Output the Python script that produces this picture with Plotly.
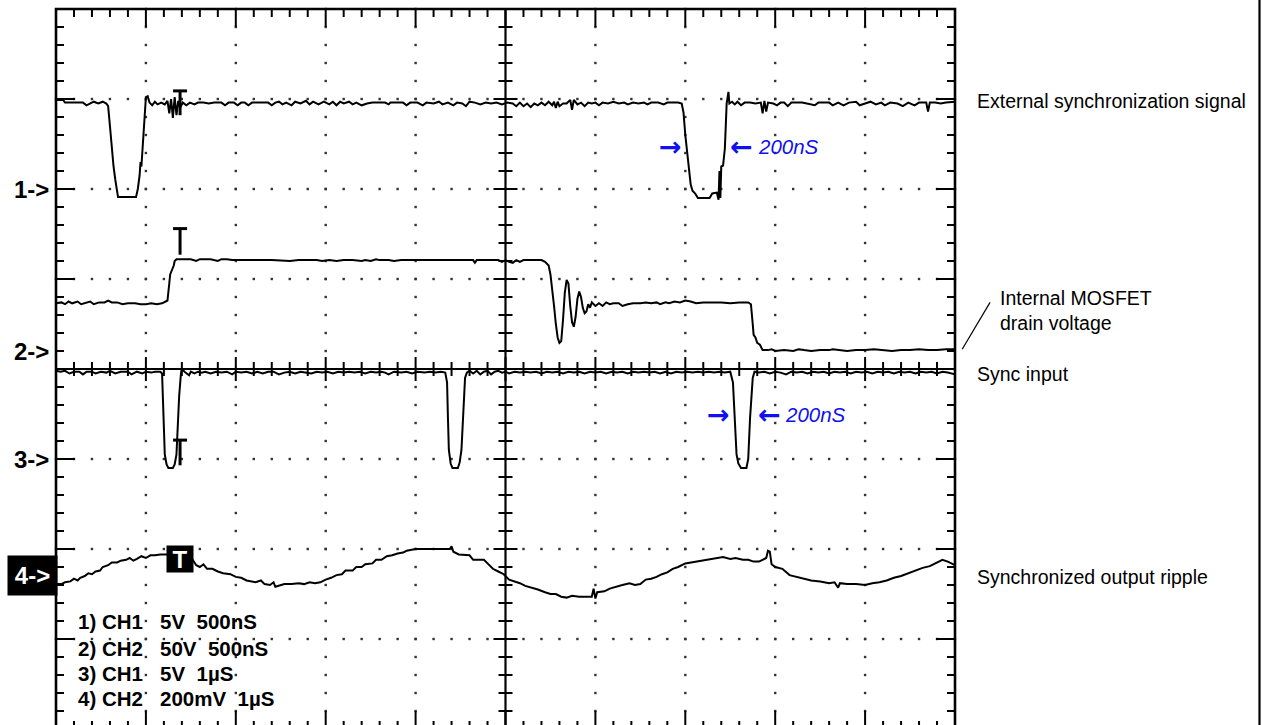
import plotly.graph_objects as go

# ---------------- data (oscilloscope divisions: x 0..10, y -4..4) ----------------
ext_sync = [(0.00, 2.99), (0.08, 2.99), (0.10, 2.96), (0.30, 2.96), (0.34, 2.93), (0.38, 2.95), (0.42, 2.97),
            (0.47, 2.95), (0.52, 2.97), (0.56, 2.95), (0.58, 2.92), (0.60, 2.70), (0.62, 2.45), (0.64, 2.25),
            (0.66, 2.10), (0.68, 1.94), (0.69, 1.91), (0.89, 1.91), (0.91, 2.00), (0.93, 2.15), (0.94, 2.30),
            (0.95, 2.25), (0.96, 2.40), (0.98, 2.70), (0.99, 2.95), (1.00, 3.02), (1.02, 3.03), (1.04, 2.96),
            (1.07, 2.93), (1.10, 2.97), (1.13, 2.94), (1.17, 2.96), (1.21, 2.94), (1.24, 2.98), (1.26, 2.84),
            (1.28, 3.00), (1.30, 2.79), (1.32, 3.02), (1.34, 2.82), (1.36, 2.98), (1.38, 2.90), (1.41, 2.96),
            (1.45, 2.93), (1.49, 2.96), (1.54, 2.94), (1.58, 2.96), (1.64, 2.96), (1.70, 2.95), (1.76, 2.96),
            (1.84, 2.96), (1.88, 2.93), (1.92, 2.96), (1.98, 2.96), (2.02, 2.93), (2.06, 2.96), (2.10, 2.96),
            (2.14, 2.93), (2.18, 2.96), (2.28, 2.96), (2.36, 2.96), (2.40, 2.93), (2.44, 2.96), (2.48, 2.97),
            (2.52, 2.94), (2.56, 2.96), (2.62, 2.93), (2.66, 2.97), (2.72, 2.95), (2.78, 2.98), (2.82, 2.94),
            (2.86, 2.97), (2.92, 2.94), (2.98, 2.97), (3.04, 2.94), (3.08, 2.97), (3.12, 2.93), (3.16, 2.97),
            (3.20, 2.95), (3.26, 2.97), (3.30, 2.94), (3.34, 2.96), (3.40, 2.93), (3.46, 2.95), (3.52, 2.96),
            (3.58, 2.96), (3.66, 2.96), (3.70, 2.94), (3.72, 2.96), (3.80, 2.96), (3.86, 2.96), (3.90, 2.93),
            (3.94, 2.96), (4.02, 2.96), (4.08, 2.93), (4.12, 2.96), (4.20, 2.95), (4.26, 2.97), (4.30, 2.94),
            (4.36, 2.96), (4.42, 2.93), (4.46, 2.96), (4.52, 2.95), (4.56, 2.92), (4.60, 2.97), (4.66, 2.96),
            (4.72, 2.94), (4.78, 2.96), (4.84, 2.95), (4.90, 2.96), (4.96, 2.94), (5.02, 2.96), (5.08, 2.95),
            (5.12, 2.92), (5.16, 2.96), (5.20, 2.92), (5.24, 2.95), (5.28, 2.91), (5.32, 2.95), (5.36, 2.93),
            (5.40, 2.96), (5.44, 2.93), (5.48, 2.97), (5.52, 2.93), (5.54, 2.97), (5.56, 2.90), (5.58, 2.97),
            (5.60, 2.92), (5.64, 2.95), (5.68, 2.95), (5.72, 2.99), (5.74, 2.88), (5.76, 2.99), (5.80, 2.94),
            (5.84, 2.96), (5.88, 2.92), (5.92, 2.96), (5.96, 2.95), (6.00, 2.96), (6.04, 2.93), (6.08, 2.96),
            (6.14, 2.95), (6.20, 2.97), (6.26, 2.95), (6.32, 2.96), (6.36, 2.94), (6.42, 2.96), (6.48, 2.95),
            (6.54, 2.96), (6.58, 2.94), (6.62, 2.96), (6.70, 2.96), (6.76, 2.94), (6.80, 2.96), (6.86, 2.96),
            (6.92, 2.96), (6.96, 2.95), (6.98, 2.85), (7.00, 2.60), (7.02, 2.40), (7.04, 2.20), (7.06, 2.05),
            (7.08, 1.98), (7.11, 1.95), (7.14, 1.90), (7.27, 1.90), (7.30, 1.95), (7.35, 1.96), (7.37, 1.88),
            (7.38, 2.20), (7.39, 1.90), (7.40, 2.25), (7.42, 2.26), (7.44, 2.45), (7.45, 2.70), (7.46, 2.95),
            (7.48, 3.08), (7.49, 2.95), (7.52, 2.97), (7.55, 2.94), (7.58, 2.97), (7.62, 2.93), (7.66, 2.96),
            (7.72, 2.96), (7.78, 2.95), (7.84, 2.96), (7.86, 2.84), (7.88, 2.98), (7.90, 2.86), (7.92, 2.96),
            (7.98, 2.95), (8.02, 2.93), (8.06, 2.96), (8.10, 2.96), (8.14, 2.92), (8.18, 2.96), (8.30, 2.96),
            (8.36, 2.95), (8.44, 2.93), (8.48, 2.96), (8.60, 2.96), (8.64, 2.93), (8.70, 2.96), (8.76, 2.93),
            (8.82, 2.96), (8.90, 2.97), (8.94, 2.93), (9.00, 2.95), (9.06, 2.97), (9.12, 2.94), (9.18, 2.96),
            (9.22, 2.93), (9.28, 2.96), (9.36, 2.95), (9.42, 2.92), (9.48, 2.96), (9.55, 2.93), (9.60, 2.96),
            (9.68, 2.96), (9.70, 2.86), (9.72, 2.96), (9.78, 2.96), (9.84, 2.95), (9.90, 2.96), (10.00, 2.97)]

drain_voltage = [(0.00, 0.73), (0.06, 0.74), (0.10, 0.72), (0.14, 0.75), (0.18, 0.73), (0.24, 0.75), (0.28, 0.72),
                 (0.34, 0.74), (0.38, 0.75), (0.42, 0.72), (0.48, 0.74), (0.54, 0.74), (0.58, 0.76), (0.62, 0.74),
                 (0.68, 0.74), (0.74, 0.72), (0.80, 0.73), (0.88, 0.73), (0.94, 0.72), (1.00, 0.72), (1.06, 0.73),
                 (1.12, 0.72), (1.18, 0.73), (1.22, 0.75), (1.24, 0.76), (1.26, 0.95), (1.27, 1.05), (1.29, 1.10),
                 (1.31, 1.15), (1.32, 1.20), (1.34, 1.22), (1.40, 1.22), (1.50, 1.22), (1.56, 1.20), (1.60, 1.22),
                 (1.66, 1.22), (1.72, 1.22), (1.80, 1.20), (1.84, 1.22), (1.90, 1.22), (1.96, 1.21), (2.10, 1.21),
                 (2.20, 1.21), (2.40, 1.21), (2.60, 1.20), (2.70, 1.21), (2.90, 1.21), (2.96, 1.20), (3.04, 1.21),
                 (3.12, 1.20), (3.20, 1.21), (3.30, 1.21), (3.40, 1.20), (3.44, 1.21), (3.50, 1.20), (3.56, 1.22),
                 (3.60, 1.21), (3.70, 1.21), (3.76, 1.20), (3.84, 1.21), (4.00, 1.21), (4.20, 1.21), (4.40, 1.21),
                 (4.64, 1.21), (4.66, 1.18), (4.68, 1.21), (4.80, 1.21), (4.92, 1.21), (4.96, 1.19), (5.00, 1.21),
                 (5.04, 1.19), (5.08, 1.18), (5.12, 1.21), (5.16, 1.19), (5.20, 1.21), (5.40, 1.21), (5.44, 1.19),
                 (5.48, 1.15), (5.50, 1.05), (5.52, 0.90), (5.54, 0.70), (5.56, 0.50), (5.58, 0.35), (5.60, 0.29),
                 (5.62, 0.31), (5.64, 0.55), (5.66, 0.85), (5.68, 0.99), (5.70, 0.95), (5.72, 0.70), (5.74, 0.52),
                 (5.76, 0.47), (5.78, 0.58), (5.80, 0.78), (5.82, 0.86), (5.84, 0.80), (5.86, 0.68), (5.88, 0.62),
                 (5.90, 0.64), (5.92, 0.72), (5.94, 0.68), (5.96, 0.74), (6.00, 0.70), (6.04, 0.73), (6.08, 0.70),
                 (6.12, 0.74), (6.16, 0.72), (6.20, 0.73), (6.26, 0.73), (6.30, 0.70), (6.36, 0.72), (6.42, 0.73),
                 (6.50, 0.73), (6.56, 0.74), (6.62, 0.73), (6.68, 0.74), (6.72, 0.72), (6.78, 0.74), (6.82, 0.73),
                 (6.88, 0.75), (6.94, 0.74), (7.00, 0.76), (7.06, 0.75), (7.12, 0.73), (7.20, 0.74), (7.30, 0.74),
                 (7.40, 0.74), (7.50, 0.73), (7.60, 0.74), (7.70, 0.74), (7.73, 0.72), (7.75, 0.50), (7.76, 0.38),
                 (7.78, 0.35), (7.80, 0.29), (7.83, 0.27), (7.86, 0.21), (7.92, 0.21), (7.96, 0.22), (8.00, 0.20),
                 (8.10, 0.21), (8.20, 0.20), (8.26, 0.22), (8.32, 0.21), (8.40, 0.20), (8.50, 0.21), (8.60, 0.21),
                 (8.64, 0.22), (8.72, 0.21), (8.80, 0.20), (8.90, 0.21), (9.00, 0.21), (9.10, 0.22), (9.20, 0.21),
                 (9.30, 0.20), (9.40, 0.21), (9.50, 0.21), (9.60, 0.22), (9.70, 0.21), (9.80, 0.21), (9.90, 0.22),
                 (10.00, 0.22)]

sync_input = [(0.00, -0.02), (0.05, -0.03), (0.10, -0.02), (0.15, -0.05), (0.20, -0.03), (0.26, -0.03),
              (0.30, -0.06), (0.34, -0.03), (0.40, -0.03), (0.44, -0.05), (0.50, -0.03), (0.56, -0.04),
              (0.60, -0.02), (0.66, -0.05), (0.72, -0.03), (0.80, -0.03), (0.84, -0.06), (0.90, -0.03),
              (0.96, -0.05), (1.00, -0.03), (1.06, -0.04), (1.10, -0.03), (1.16, -0.03), (1.18, -0.05),
              (1.19, -0.35), (1.20, -0.75), (1.21, -0.95), (1.23, -1.06), (1.25, -1.10), (1.30, -1.10),
              (1.32, -1.06), (1.34, -0.95), (1.35, -0.70), (1.37, -0.30), (1.39, -0.05), (1.40, 0.00),
              (1.44, -0.04), (1.48, -0.07), (1.50, -0.03), (1.54, -0.05), (1.58, -0.03), (1.62, -0.04),
              (1.66, -0.03), (1.72, -0.05), (1.78, -0.03), (1.84, -0.04), (1.90, -0.03), (1.96, -0.06),
              (2.00, -0.03), (2.06, -0.04), (2.12, -0.03), (2.18, -0.05), (2.24, -0.03), (2.30, -0.05),
              (2.36, -0.03), (2.42, -0.03), (2.48, -0.06), (2.54, -0.04), (2.60, -0.03), (2.66, -0.05),
              (2.72, -0.03), (2.78, -0.04), (2.84, -0.05), (2.90, -0.03), (2.96, -0.04), (3.02, -0.03),
              (3.08, -0.05), (3.14, -0.03), (3.20, -0.04), (3.26, -0.03), (3.32, -0.04), (3.38, -0.03),
              (3.44, -0.05), (3.50, -0.03), (3.56, -0.04), (3.62, -0.03), (3.66, -0.04), (3.70, -0.06),
              (3.76, -0.03), (3.84, -0.04), (3.90, -0.03), (3.96, -0.05), (4.02, -0.03), (4.10, -0.04),
              (4.16, -0.03), (4.22, -0.04), (4.28, -0.03), (4.33, -0.04), (4.35, -0.15), (4.36, -0.55),
              (4.37, -0.90), (4.39, -1.05), (4.41, -1.10), (4.47, -1.10), (4.49, -1.04), (4.51, -0.90),
              (4.53, -0.50), (4.55, -0.10), (4.57, -0.04), (4.60, -0.02), (4.64, -0.05), (4.68, -0.02),
              (4.72, -0.06), (4.76, -0.03), (4.80, -0.02), (4.84, -0.06), (4.88, -0.03), (4.92, -0.02),
              (4.96, -0.04), (5.00, -0.03), (5.04, -0.05), (5.10, -0.03), (5.16, -0.04), (5.22, -0.03),
              (5.28, -0.04), (5.34, -0.03), (5.40, -0.05), (5.46, -0.03), (5.52, -0.04), (5.58, -0.03),
              (5.64, -0.05), (5.70, -0.03), (5.76, -0.04), (5.82, -0.03), (5.88, -0.05), (5.94, -0.03),
              (6.00, -0.04), (6.06, -0.03), (6.12, -0.05), (6.18, -0.03), (6.24, -0.04), (6.30, -0.03),
              (6.36, -0.05), (6.42, -0.03), (6.48, -0.04), (6.54, -0.03), (6.60, -0.04), (6.66, -0.03),
              (6.72, -0.05), (6.78, -0.03), (6.84, -0.05), (6.90, -0.03), (6.96, -0.04), (7.02, -0.03),
              (7.08, -0.04), (7.14, -0.03), (7.20, -0.04), (7.26, -0.03), (7.32, -0.04), (7.38, -0.03),
              (7.44, -0.04), (7.50, -0.03), (7.53, -0.15), (7.55, -0.60), (7.57, -0.95), (7.59, -1.05),
              (7.62, -1.10), (7.68, -1.10), (7.70, -1.00), (7.72, -0.55), (7.75, -0.10), (7.77, -0.03),
              (7.82, -0.04), (7.88, -0.03), (7.94, -0.05), (8.00, -0.03), (8.06, -0.04), (8.12, -0.06),
              (8.18, -0.03), (8.24, -0.04), (8.30, -0.03), (8.36, -0.05), (8.42, -0.03), (8.48, -0.04),
              (8.54, -0.03), (8.60, -0.05), (8.66, -0.03), (8.72, -0.04), (8.78, -0.03), (8.84, -0.05),
              (8.90, -0.03), (8.96, -0.04), (9.02, -0.03), (9.08, -0.05), (9.14, -0.03), (9.20, -0.04),
              (9.26, -0.03), (9.32, -0.05), (9.38, -0.03), (9.44, -0.04), (9.50, -0.03), (9.56, -0.05),
              (9.62, -0.03), (9.68, -0.04), (9.74, -0.03), (9.80, -0.05), (9.86, -0.03), (9.92, -0.04),
              (10.00, -0.06)]

output_ripple = [(0.00, -2.39), (0.06, -2.39), (0.10, -2.37), (0.16, -2.36), (0.20, -2.33), (0.24, -2.35),
                 (0.27, -2.32), (0.32, -2.30), (0.36, -2.27), (0.40, -2.28), (0.44, -2.25), (0.49, -2.24),
                 (0.52, -2.20), (0.58, -2.18), (0.62, -2.15), (0.68, -2.15), (0.72, -2.13), (0.78, -2.12),
                 (0.82, -2.10), (0.86, -2.13), (0.90, -2.11), (0.95, -2.08), (1.00, -2.10), (1.05, -2.07),
                 (1.10, -2.07), (1.16, -2.06), (1.23, -2.06), (1.30, -2.08), (1.40, -2.12), (1.52, -2.12),
                 (1.56, -2.18), (1.60, -2.20), (1.64, -2.17), (1.68, -2.22), (1.74, -2.22), (1.80, -2.25),
                 (1.86, -2.27), (1.94, -2.28), (2.00, -2.31), (2.06, -2.32), (2.12, -2.35), (2.16, -2.36),
                 (2.22, -2.37), (2.28, -2.35), (2.32, -2.39), (2.38, -2.40), (2.42, -2.37), (2.44, -2.42),
                 (2.48, -2.41), (2.54, -2.39), (2.62, -2.39), (2.70, -2.38), (2.76, -2.39), (2.82, -2.37),
                 (2.88, -2.38), (2.94, -2.37), (3.00, -2.34), (3.06, -2.32), (3.12, -2.29), (3.18, -2.28),
                 (3.22, -2.24), (3.30, -2.24), (3.34, -2.20), (3.40, -2.20), (3.44, -2.17), (3.52, -2.16),
                 (3.56, -2.12), (3.62, -2.12), (3.68, -2.08), (3.74, -2.07), (3.80, -2.05), (3.86, -2.04),
                 (3.90, -2.02), (3.96, -2.01), (4.00, -2.00), (4.10, -2.00), (4.20, -2.00), (4.38, -2.00),
                 (4.40, -1.97), (4.42, -2.03), (4.48, -2.06), (4.60, -2.07), (4.64, -2.12), (4.76, -2.12),
                 (4.80, -2.16), (4.86, -2.22), (4.92, -2.25), (4.98, -2.28), (5.04, -2.34), (5.10, -2.36),
                 (5.16, -2.38), (5.22, -2.41), (5.30, -2.43), (5.36, -2.45), (5.44, -2.48), (5.50, -2.50),
                 (5.56, -2.50), (5.62, -2.53), (5.68, -2.54), (5.74, -2.52), (5.82, -2.53), (5.90, -2.53),
                 (5.96, -2.53), (5.98, -2.44), (6.00, -2.55), (6.02, -2.48), (6.10, -2.47), (6.16, -2.44),
                 (6.22, -2.42), (6.30, -2.40), (6.38, -2.38), (6.44, -2.40), (6.50, -2.39), (6.56, -2.34),
                 (6.62, -2.33), (6.68, -2.31), (6.74, -2.28), (6.80, -2.26), (6.86, -2.22), (6.92, -2.20),
                 (7.00, -2.16), (7.06, -2.15), (7.16, -2.13), (7.24, -2.12), (7.34, -2.10), (7.42, -2.09),
                 (7.50, -2.11), (7.56, -2.10), (7.64, -2.12), (7.70, -2.12), (7.76, -2.14), (7.82, -2.14),
                 (7.90, -2.10), (7.92, -2.02), (7.94, -2.03), (7.96, -2.17), (8.00, -2.20), (8.08, -2.22),
                 (8.16, -2.29), (8.24, -2.31), (8.34, -2.33), (8.40, -2.35), (8.50, -2.36), (8.60, -2.38),
                 (8.66, -2.37), (8.70, -2.43), (8.72, -2.38), (8.80, -2.39), (8.90, -2.39), (9.00, -2.40),
                 (9.08, -2.38), (9.16, -2.37), (9.24, -2.35), (9.32, -2.32), (9.40, -2.30), (9.48, -2.27),
                 (9.56, -2.24), (9.64, -2.21), (9.72, -2.19), (9.80, -2.15), (9.86, -2.12), (9.92, -2.14),
                 (10.00, -2.18)]

# channel reference markers (left side) and their levels
ref_labels = ["1->", "2->", "3->", "4->"]
ref_levels = [2.0, 0.2, -1.0, -2.29]

# trigger "T" markers: x position, bar level, stem end
trig_x = 1.38
trig_top = [3.09, 1.56, -0.79]
trig_bottom = [2.82, 1.27, -1.07]
ripple_trig = (1.38, -2.11)

# right-hand captions (text, x, y)
captions = [("External synchronization signal", 10.22, 2.98),
            ("Sync input", 10.22, -0.06),
            ("Synchronized output ripple", 10.22, -2.31)]
mosfet_caption = ("Internal MOSFET<br>drain voltage", 10.48, 0.645)
mosfet_leader = (10.08, 0.22, 10.39, 0.74)

# pulse width callouts: right-arrow x, left-arrow x, text x, y
pulse_width = [(6.83, 7.62, 7.79, 2.475), (7.37, 7.94, 8.09, -0.50)]
pulse_width_text = "200nS"

# settings block
settings = ["1) CH1\u00a0\u00a0\u00a05V\u00a0\u00a0500nS",
            "2) CH2\u00a0\u00a0\u00a050V\u00a0\u00a0500nS",
            "3) CH1\u00a0\u00a0\u00a05V\u00a0\u00a01µS",
            "4) CH2\u00a0\u00a0\u00a0200mV\u00a0\u00a01µS"]
settings_y = [-2.81, -3.10, -3.38, -3.66]
settings_x = 0.22

# ---------------- layout geometry ----------------
W, H = 1266, 725
X0_PX, DX = 56.0, 89.9     # screen left edge / pixels per division
Y0_PX, DY = 369.0, 90.0    # screen centre / pixels per division
px_x = 1.0 / DX
px_y = 1.0 / DY

FONT = "Liberation Sans, Arial, sans-serif"
ARROW_FONT = "DejaVu Sans, sans-serif"
BLUE = "#1010f0"

fig = go.Figure()

# dotted graticule
gx, gy = [], []
for i in range(1, 10):
    if i == 5:
        continue
    for k in range(41):
        gx.append(i)
        gy.append(-4 + k * 0.2)
for j in range(-3, 4):
    if j == 0:
        continue
    for k in range(51):
        gx.append(k * 0.2)
        gy.append(j)
fig.add_trace(go.Scatter(x=gx, y=gy, mode="markers",
                         marker=dict(symbol="square", size=2.4, color="#333333", line=dict(width=0)),
                         hoverinfo="skip", showlegend=False))

# ticks on edges and centre axes
tx, ty = [], []


def seg(x0, y0, x1, y1):
    tx.extend([x0, x1, None])
    ty.extend([y0, y1, None])


for k in range(51):
    x = k * 0.2
    major = (k % 5 == 0)
    L = (18 if major else 8) * px_y
    seg(x, 4, x, 4 - L)
    seg(x, -4, x, -4 + L)
    c = (12 if major else 7) * px_y
    seg(x, -c, x, c)
for k in range(41):
    y = -4 + k * 0.2
    major = (k % 5 == 0)
    L = (19 if major else 8) * px_x
    seg(0, y, L, y)
    seg(10, y, 10 - L, y)
    c = (12 if major else 7) * px_x
    seg(5 - c, y, 5 + c, y)
fig.add_trace(go.Scatter(x=tx, y=ty, mode="lines", line=dict(color="black", width=2),
                         hoverinfo="skip", showlegend=False))

# centre cross lines
fig.add_trace(go.Scatter(x=[5, 5, None, 0, 10], y=[-4, 4, None, 0, 0], mode="lines",
                         line=dict(color="black", width=2.2), hoverinfo="skip", showlegend=False))
# screen border
fig.add_trace(go.Scatter(x=[0, 0, 10, 10], y=[-4, 4, 4, -4], mode="lines",
                         line=dict(color="black", width=2.6), hoverinfo="skip", showlegend=False))

# signal traces
for series in (ext_sync, drain_voltage, sync_input, output_ripple):
    xs = [p[0] for p in series]
    ys = [p[1] for p in series]
    fig.add_trace(go.Scatter(x=xs, y=ys, mode="lines", line=dict(color="black", width=2),
                             hoverinfo="skip", showlegend=False))

# trigger markers
mx, my = [], []
for top, bot in zip(trig_top, trig_bottom):
    mx.extend([trig_x - 7 * px_x, trig_x + 7 * px_x, None, trig_x, trig_x, None])
    my.extend([top, top, None, top, bot, None])
fig.add_trace(go.Scatter(x=mx, y=my, mode="lines", line=dict(color="black", width=3),
                         hoverinfo="skip", showlegend=False))

annotations = []
# channel reference labels
for lab, lev in zip(ref_labels[:3], ref_levels[:3]):
    annotations.append(dict(x=-5 * px_x, y=lev, xref="x", yref="y", text=lab, showarrow=False,
                            xanchor="right", yanchor="middle",
                            font=dict(family=FONT, size=24, color="black", weight="bold")))
annotations.append(dict(x=-24 * px_x, y=ref_levels[3], xref="x", yref="y", text=ref_labels[3],
                        showarrow=False, xanchor="center", yanchor="middle", bgcolor="black",
                        width=49, height=39, borderpad=0,
                        font=dict(family=FONT, size=24, color="white", weight="bold")))
# ripple trigger box
annotations.append(dict(x=ripple_trig[0], y=ripple_trig[1], xref="x", yref="y", text="T", showarrow=False,
                        xanchor="center", yanchor="middle", bgcolor="black", width=26, height=26,
                        borderpad=0, font=dict(family=FONT, size=24, color="white", weight="bold")))
# right captions
for text, x, y in captions:
    annotations.append(dict(x=x, y=y, xref="x", yref="y", text=text, showarrow=False,
                            xanchor="left", yanchor="middle",
                            font=dict(family=FONT, size=19.5, color="black")))
annotations.append(dict(x=mosfet_caption[1], y=mosfet_caption[2], xref="x", yref="y",
                        text=mosfet_caption[0], showarrow=False, xanchor="left", yanchor="middle",
                        align="left", font=dict(family=FONT, size=19.5, color="black")))
# pulse width callouts
for rx, lx, tx_, y in pulse_width:
    annotations.append(dict(x=rx, y=y, xref="x", yref="y", text="<b>→</b>", showarrow=False,
                            xanchor="center", yanchor="middle",
                            font=dict(family=ARROW_FONT, size=27, color=BLUE)))
    annotations.append(dict(x=lx, y=y, xref="x", yref="y", text="<b>←</b>", showarrow=False,
                            xanchor="center", yanchor="middle",
                            font=dict(family=ARROW_FONT, size=27, color=BLUE)))
    annotations.append(dict(x=tx_, y=y, xref="x", yref="y", text="<i>" + pulse_width_text + "</i>",
                            showarrow=False, xanchor="left", yanchor="middle",
                            font=dict(family=FONT, size=20.5, color=BLUE)))
# settings block
for text, y in zip(settings, settings_y):
    annotations.append(dict(x=settings_x, y=y, xref="x", yref="y", text=text, showarrow=False,
                            xanchor="left", yanchor="middle",
                            font=dict(family=FONT, size=20.5, color="black", weight="bold")))

shapes = [
    dict(type="line", xref="x", yref="y", x0=mosfet_leader[0], y0=mosfet_leader[1],
         x1=mosfet_leader[2], y1=mosfet_leader[3], line=dict(color="black", width=1.2)),
    dict(type="line", xref="paper", yref="paper", x0=1259.5 / W, x1=1259.5 / W, y0=0, y1=1,
         line=dict(color="black", width=2.2)),
]

fig.update_layout(
    width=W, height=H, autosize=False,
    margin=dict(l=0, r=0, t=0, b=0, pad=0),
    paper_bgcolor="white", plot_bgcolor="white",
    showlegend=False, hovermode=False,
    xaxis=dict(range=[-X0_PX / DX, (W - X0_PX) / DX], visible=False, fixedrange=True),
    yaxis=dict(range=[(Y0_PX - H) / DY, Y0_PX / DY], visible=False, fixedrange=True),
    annotations=annotations, shapes=shapes,
)

fig.write_html("out.html", config={"displayModeBar": False, "staticPlot": True},
               post_script="document.body.style.margin='0';document.body.style.overflow='hidden';")
